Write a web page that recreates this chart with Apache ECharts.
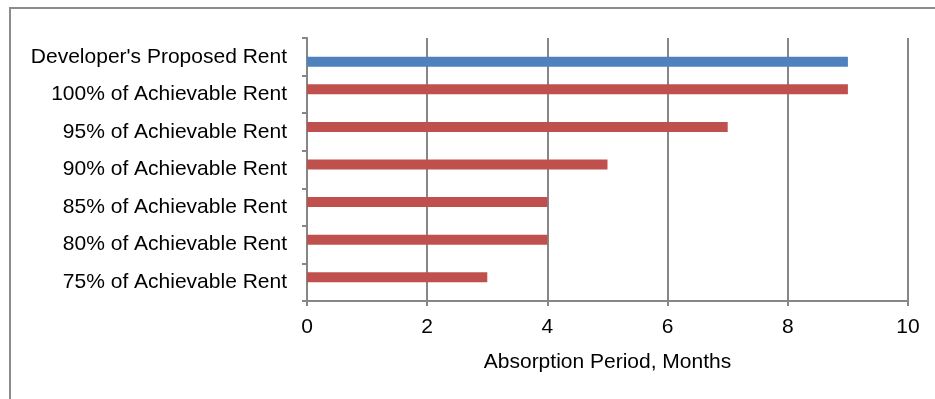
<!DOCTYPE html>
<html>
<head>
<meta charset="utf-8">
<script src="https://cdn.jsdelivr.net/npm/echarts@6/dist/echarts.min.js"></script>
<style>
  html, body { margin: 0; padding: 0; background: #fff; }
  #main { width: 935px; height: 399px; }
</style>
</head>
<body>
<div id="main"></div>
<script>
// categories, bottom to top
var categories = [
	'75% of Achievable Rent',
	'80% of Achievable Rent',
	'85% of Achievable Rent',
	'90% of Achievable Rent',
	'95% of Achievable Rent',
	'100% of Achievable Rent',
	"Developer's Proposed Rent"
];
var achievableMonths = [3, 4, 4, 5, 7, 9, null];
var proposedMonths = [null, null, null, null, null, null, 9];
var xTicks = [0, 10, 2]; // min, max, step

var chart = echarts.init(document.getElementById('main'));
var font = '"Liberation Sans", Arial, sans-serif';
var gray = '#868686';

var option = {
	animation: false,
	textStyle: { fontFamily: font },
	graphic: [{
		type: 'rect',
		shape: { x: 10, y: 8, width: 1000, height: 500 },
		style: { fill: 'none', stroke: '#8c8c8c', lineWidth: 2 }
	}],
	grid: { left: 307, right: 27, top: 38, bottom: 98 },
	xAxis: {
		type: 'value',
		min: xTicks[0],
		max: xTicks[1],
		interval: xTicks[2],
		name: 'Absorption Period, Months',
		nameLocation: 'middle',
		nameGap: 51,
		nameTextStyle: { fontFamily: font, fontSize: 21, color: '#000' },
		axisLine: { show: true, lineStyle: { color: gray, width: 2 } },
		axisTick: { show: true, length: 5, lineStyle: { color: gray, width: 2 } },
		axisLabel: { fontFamily: font, fontSize: 21, color: '#000', margin: 16 },
		splitLine: { show: true, lineStyle: { color: gray, width: 2 } }
	},
	yAxis: {
		type: 'category',
		data: categories,
		axisLine: { show: true, lineStyle: { color: gray, width: 2 } },
		axisTick: { show: true, length: 5, lineStyle: { color: gray, width: 2 } },
		axisLabel: { fontFamily: font, fontSize: 21, color: '#000', margin: 20 },
		splitLine: { show: false }
	},
	series: [{
		name: 'Achievable',
		type: 'bar',
		data: achievableMonths,
		barWidth: 10,
		barGap: '0%',
		itemStyle: { color: '#C0504D' }
	}, {
		name: 'Proposed',
		type: 'bar',
		data: proposedMonths,
		barWidth: 10,
		barGap: '0%',
		itemStyle: { color: '#4F81BD' }
	}]
};
chart.setOption(option);
</script>
</body>
</html>
